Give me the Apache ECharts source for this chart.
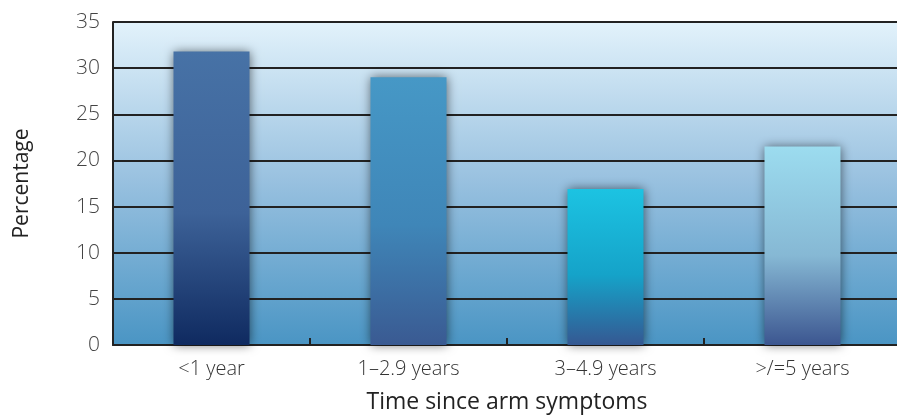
<!DOCTYPE html>
<html><head><meta charset="utf-8">
<script src="https://cdn.jsdelivr.net/npm/echarts@6/dist/echarts.min.js"></script>
<style>html,body{margin:0;padding:0;background:#fff;overflow:hidden}#c{width:897px;height:415px}</style>
</head><body><div id="c"></div>
<script>
const categories = ['<1 year', '1–2.9 years', '3–4.9 years', '>/=5 years'];
const values = [31.8, 29.0, 16.9, 21.5];
const yTicks = [0, 5, 10, 15, 20, 25, 30, 35];

const barGradients = [
  ['#4772a6', '#3d6298', '#0f2a60'],
  ['#4698c6', '#3f86b8', '#3a5a92'],
  ['#1cc3e2', '#15a3c9', '#355892'],
  ['#9cdcef', '#86b8d4', '#3c5690']
];
function grad(c) {
  return new echarts.graphic.LinearGradient(0, 0, 0, 1, [
    {offset: 0, color: c[0]}, {offset: 0.55, color: c[1]}, {offset: 1, color: c[2]}
  ]);
}
const chart = echarts.init(document.getElementById('c'));
const font = 'Open Sans';
chart.setOption({
  animation: false,
  grid: {
    left: 113, top: 22, right: -4, bottom: 70,
    outerBoundsMode: 'none', containLabel: false,
    show: true, borderWidth: 0,
    backgroundColor: new echarts.graphic.LinearGradient(0, 0, 0, 1, [
      {offset: 0, color: '#e2f2fb'}, {offset: 0.5, color: '#97c0df'}, {offset: 1, color: '#4a95c4'}
    ])
  },
  xAxis: {
    type: 'category', data: categories,
    name: 'Time since arm symptoms', nameLocation: 'middle', nameGap: 46,
    nameTextStyle: {fontFamily: font, fontSize: 23, color: '#222'},
    axisLine: {lineStyle: {color: '#222', width: 2}},
    axisTick: {show: true, length: -7, lineStyle: {color: '#222', width: 2}},
    axisLabel: {fontFamily: font, fontWeight: 300, fontSize: 20, color: '#333', margin: 14}
  },
  yAxis: {
    type: 'value', min: yTicks[0], max: yTicks[yTicks.length - 1], interval: 5,
    name: 'Percentage', nameLocation: 'middle', nameGap: 80, nameRotate: 90,
    nameTextStyle: {fontFamily: font, fontSize: 21, color: '#222'},
    axisLine: {show: true, lineStyle: {color: '#222', width: 2}},
    axisTick: {show: false},
    axisLabel: {fontFamily: font, fontWeight: 300, fontSize: 21, color: '#444', margin: 13},
    splitLine: {lineStyle: {color: '#222', width: 2}}
  },
  series: [{
    type: 'bar', barWidth: 76,
    data: values.map((v, i) => ({
      value: v,
      itemStyle: {color: grad(barGradients[i]), shadowBlur: 10, shadowColor: 'rgba(0,0,0,0.55)'}
    }))
  }]
});
</script></body></html>
